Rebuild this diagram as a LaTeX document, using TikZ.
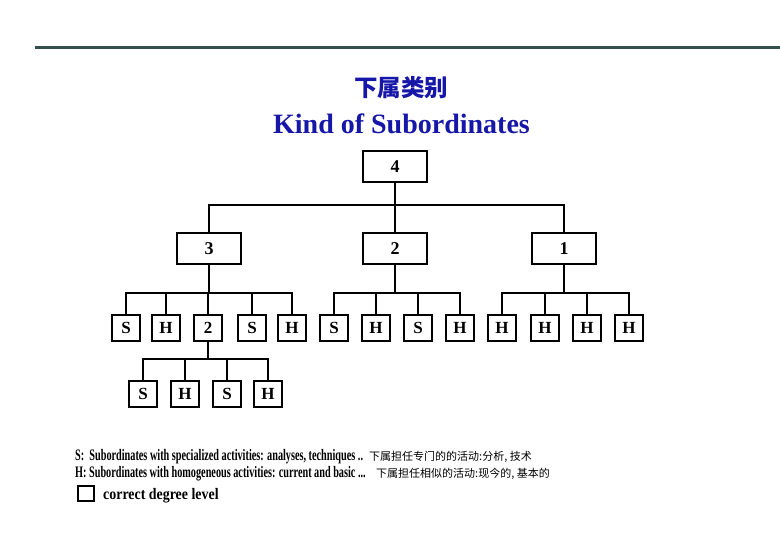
\documentclass[tikz,border=0pt]{standalone}
\usepackage{fontspec}
\setmainfont{Liberation Serif}
\newfontfamily\cjk{Noto Sans CJK SC}
\usepackage{graphicx}
\definecolor{titleblue}{RGB}{22,22,168}
\definecolor{rulegray}{RGB}{50,80,76}

\begin{document}
\begin{tikzpicture}[x=1pt,y=-1pt,
    level/.style={draw,line width=2pt,minimum width=64pt,minimum height=31pt,inner sep=0pt,
      font=\fontsize{18}{18}\selectfont\bfseries},
    leaf/.style={draw,line width=2pt,minimum width=28pt,minimum height=26pt,inner sep=0pt,
      font=\fontsize{17}{17}\selectfont\bfseries},
    link/.style={line width=2pt},
    legend/.style={anchor=base west,inner sep=0pt}]
  \useasboundingbox (0,0) rectangle (780,540);

  % Top rule
  \coordinate (ruleL) at (35,47.5);
  \coordinate (ruleR) at (780,47.5);
  \draw[rulegray,line width=2.2pt] (ruleL) -- (ruleR);

  % Title
  \node[titleblue] (titlecn) at (401,88) {\cjk\bfseries\fontsize{23.5}{23.5}\selectfont 下属类别};
  \node[titleblue,font=\fontsize{28}{28}\selectfont\bfseries] (titleen) at (401.5,124) {Kind of Subordinates};

  % Degree levels
  \node[level] (t4) at (395,166.5) {4};
  \node[level] (m3) at (209,248.5) {3};
  \node[level] (m2) at (395,248.5) {2};
  \node[level] (m1) at (564,248.5) {1};

  % Subordinates under 3
  \node[leaf] (p1) at (126,328) {S};
  \node[leaf] (p2) at (166,328) {H};
  \node[leaf] (p3) at (208,328) {2};
  \node[leaf] (p4) at (252,328) {S};
  \node[leaf] (p5) at (292,328) {H};

  % Subordinates under 2
  \node[leaf] (q1) at (334,328) {S};
  \node[leaf] (q2) at (376,328) {H};
  \node[leaf] (q3) at (418,328) {S};
  \node[leaf] (q4) at (460,328) {H};

  % Subordinates under 1
  \node[leaf] (r1) at (502,328) {H};
  \node[leaf] (r2) at (545,328) {H};
  \node[leaf] (r3) at (587,328) {H};
  \node[leaf] (r4) at (629,328) {H};

  % Subordinates under the second 2
  \node[leaf] (s1) at (143,394) {S};
  \node[leaf] (s2) at (185,394) {H};
  \node[leaf] (s3) at (227,394) {S};
  \node[leaf] (s4) at (268,394) {H};

  % Connectors
  \coordinate (bar4) at (395,205);
  \coordinate (bar3) at (209,293);
  \coordinate (bar2) at (395,293);
  \coordinate (bar1) at (564,293);
  \coordinate (barp) at (208,359);
  \foreach \c in {m3,m2,m1} \draw[link] (t4) -- (bar4) -| (\c);
  \foreach \c in {p1,p2,p3,p4,p5} \draw[link] (m3) -- (bar3) -| (\c);
  \foreach \c in {q1,q2,q3,q4} \draw[link] (m2) -- (bar2) -| (\c);
  \foreach \c in {r1,r2,r3,r4} \draw[link] (m1) -- (bar1) -| (\c);
  \foreach \c in {s1,s2,s3,s4} \draw[link] (p3) -- (barp) -| (\c);

  % Legend
  \node[legend] (legS) at (75,460) {\scalebox{0.64}[1]{\fontsize{16}{16}\selectfont\bfseries S:\ \ Subordinates with specialized activities: analyses, techniques ..}};
  \node[legend] (legScn) at (369,460) {\cjk\fontsize{11}{11}\selectfont 下属担任专门的的活动:分析, 技术};
  \node[legend] (legH) at (75,477) {\scalebox{0.64}[1]{\fontsize{16}{16}\selectfont\bfseries H:\ Subordinates with homogeneous activities: current and basic ...}};
  \node[legend] (legHcn) at (376,477) {\cjk\fontsize{11}{11}\selectfont 下属担任相似的活动:现今的, 基本的};
  \node[draw,line width=2pt,minimum width=16pt,minimum height=15pt,inner sep=0pt] (legbox) at (86,493.5) {};
  \node[legend] (legD) at (103,499) {\scalebox{0.87}[1]{\fontsize{16}{16}\selectfont\bfseries correct degree level}};
\end{tikzpicture}
\end{document}
